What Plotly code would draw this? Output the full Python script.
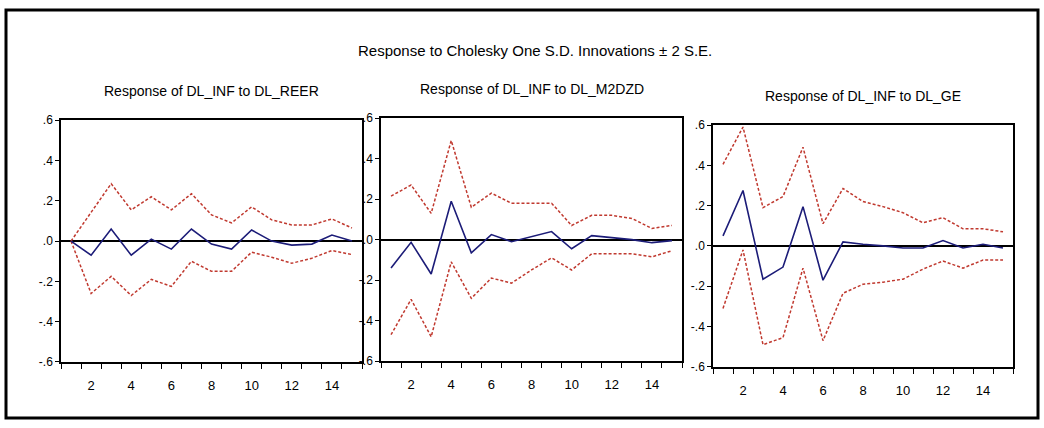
import plotly.graph_objects as go

periods = list(range(1, 16))

reer_resp = [0.0, -0.07, 0.06, -0.07, 0.01, -0.04, 0.06, -0.015, -0.04, 0.055, 0.0, -0.02, -0.015, 0.03, 0.0]
reer_up = [0.0, 0.145, 0.285, 0.155, 0.22, 0.155, 0.235, 0.13, 0.09, 0.17, 0.105, 0.08, 0.08, 0.11, 0.065]
reer_lo = [0.0, -0.26, -0.175, -0.27, -0.19, -0.225, -0.10, -0.15, -0.15, -0.055, -0.08, -0.11, -0.085, -0.047, -0.067]

m2_resp = [-0.14, -0.013, -0.17, 0.19, -0.065, 0.025, -0.01, 0.015, 0.04, -0.045, 0.02, 0.01, 0.0, -0.015, -0.005]
m2_up = [0.215, 0.27, 0.13, 0.49, 0.16, 0.23, 0.18, 0.18, 0.18, 0.07, 0.12, 0.12, 0.105, 0.055, 0.07]
m2_lo = [-0.47, -0.295, -0.48, -0.11, -0.29, -0.19, -0.215, -0.15, -0.09, -0.15, -0.07, -0.07, -0.07, -0.085, -0.055]

ge_resp = [0.05, 0.275, -0.165, -0.105, 0.195, -0.17, 0.02, 0.008, 0.0, -0.01, -0.01, 0.027, -0.01, 0.008, -0.01]
ge_up = [0.405, 0.59, 0.19, 0.245, 0.49, 0.11, 0.285, 0.22, 0.195, 0.165, 0.115, 0.14, 0.085, 0.085, 0.07]
ge_lo = [-0.31, -0.02, -0.49, -0.455, -0.11, -0.47, -0.235, -0.19, -0.18, -0.165, -0.115, -0.075, -0.11, -0.07, -0.07]

panel_titles = ["Response of DL_INF to DL_REER", "Response of DL_INF to DL_M2DZD", "Response of DL_INF to DL_GE"]
main_title = "Response to Cholesky One S.D. Innovations \u00b1 2 S.E."

y_tickvals = [0.6, 0.4, 0.2, 0.0, -0.2, -0.4, -0.6]
y_ticktext = [".6", ".4", ".2", ".0", "-.2", "-.4", "-.6"]
x_tickvals = [2, 4, 6, 8, 10, 12, 14]
x_ticktext = ["2", "4", "6", "8", "10", "12", "14"]
x_minor = [i + 0.5 for i in range(0, 16)]

W, H = 1044, 428
# pixel frames: (left, right, top, bottom)
frames = [(61, 362, 117, 367), (381, 682, 115, 366), (713, 1013, 122, 372)]
title_y = [87, 85, 92]

series = [(reer_resp, reer_up, reer_lo), (m2_resp, m2_up, m2_lo), (ge_resp, ge_up, ge_lo)]

FONT = "Liberation Sans Narrow, Arial Narrow, Liberation Sans, Arial, sans-serif"
RED = "#c0392f"
BLUE = "#1c1c78"

fig = go.Figure()
layout = dict(
    width=W, height=H, margin=dict(l=0, r=0, t=0, b=0),
    paper_bgcolor="white", plot_bgcolor="white", showlegend=False,
    font=dict(family=FONT, color="black"),
)

annotations = []
shapes = []
for i, ((l, r, t, b), (resp, up, lo)) in enumerate(zip(frames, series)):
    n = "" if i == 0 else str(i + 1)
    xa = "x" + n
    ya = "y" + n
    for vals, color, dash in [(up, RED, "3px,2px"), (lo, RED, "3px,2px"), (resp, BLUE, "solid")]:
        fig.add_trace(go.Scatter(x=periods, y=vals, mode="lines", xaxis=xa, yaxis=ya,
                                 line=dict(color=color, width=1.6 if dash == "solid" else 1.5, dash=dash),
                                 hoverinfo="skip"))
    layout["xaxis" + n] = dict(
        domain=[l / W, r / W], anchor=ya, range=[0.5, 15.5],
        tickmode="array", tickvals=x_tickvals, ticktext=x_ticktext, ticks="",
        tickfont=dict(size=13, family=FONT), showgrid=False, zeroline=False,
        showline=True, linecolor="black", linewidth=1.5, mirror=True,
        minor=dict(tickmode="array", tickvals=x_minor, ticks="outside", ticklen=5,
                   tickcolor="black", tickwidth=1, showgrid=False),
        ticklabelstandoff=11,
    )
    layout["yaxis" + n] = dict(
        domain=[1 - b / H, 1 - t / H], anchor=xa, range=[-0.6, 0.6],
        tickmode="array", tickvals=y_tickvals, ticktext=y_ticktext,
        ticks="outside", ticklen=4, tickcolor="black", tickwidth=1,
        tickfont=dict(size=12, family=FONT), showgrid=False,
        zeroline=True, zerolinecolor="black", zerolinewidth=1.5,
        showline=True, linecolor="black", linewidth=1.5, mirror=True,
    )
    annotations.append(dict(text=panel_titles[i], x=(l + r) / 2 / W, y=1 - title_y[i] / H,
                            xref="paper", yref="paper", showarrow=False,
                            xanchor="center", yanchor="middle",
                            font=dict(size=14, family=FONT, color="black")))

annotations.append(dict(text=main_title, x=535 / W, y=1 - 45 / H, xref="paper", yref="paper",
                        showarrow=False, xanchor="center", yanchor="middle",
                        font=dict(size=15, family=FONT, color="black")))
shapes.append(dict(type="rect", xref="paper", yref="paper",
                   x0=6 / W, x1=1038 / W, y0=1 - 425 / H, y1=1 - 3 / H,
                   line=dict(color="black", width=3)))
layout["annotations"] = annotations
layout["shapes"] = shapes
fig.update_layout(**layout)
fig.write_html("out.html")
